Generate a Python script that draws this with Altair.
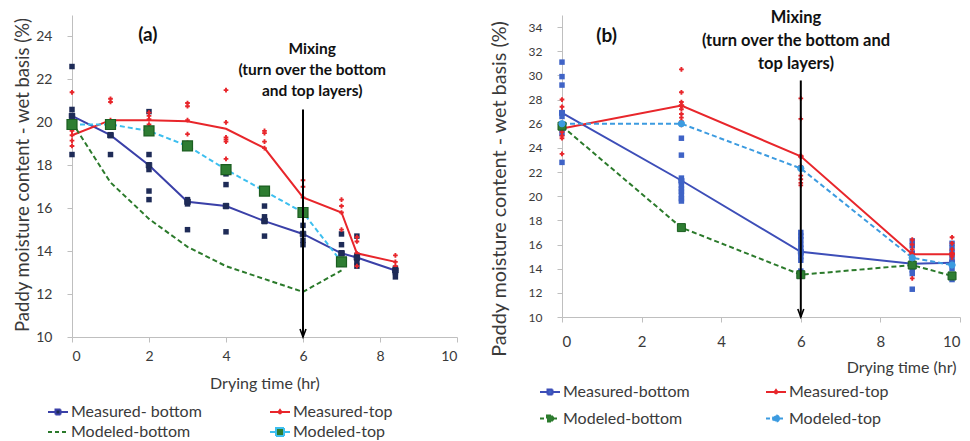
import altair as alt
import pandas as pd

FONT = "Lato"
TXT = "#3a3a3a"
GRAY = "#BFBFBF"

# ---------------- Panel (a) data ----------------
A_SERIES = ["Measured- bottom", "Measured-top", "Modeled-bottom", "Modeled-top"]
A_TIME = [0, 1, 2, 3, 4, 5, 6, 7, 7.4, 8.4]
A_MEAS_BOTTOM = [20.3, 19.4, 18.0, 16.3, 16.1, 15.4, 14.8, 13.9, 13.7, 13.1]
A_MEAS_TOP = [19.4, 20.1, 20.1, 20.05, 19.7, 18.8, 16.5, 15.8, 13.9, 13.5]
A_MOD_TIME = [0, 1, 2, 3, 4, 5, 6, 7]
A_MOD_BOTTOM = [20.0, 17.2, 15.5, 14.2, 13.3, 12.7, 12.1, 13.1]
A_MOD_TOP = [19.9, 19.9, 19.6, 18.9, 17.8, 16.8, 15.8, 13.5]
A_REPS_BOTTOM = [
    [22.6, 20.6, 20.3, 20.0, 18.5],
    [20.0, 19.4, 18.5],
    [20.5, 18.5, 17.8, 16.8, 16.4],
    [16.4, 16.2, 15.0],
    [17.6, 17.1, 16.1, 14.9],
    [16.1, 15.6, 15.4, 14.7],
    [15.7, 15.2, 14.5, 14.3],
    [14.8, 14.3, 13.9, 13.4],
    [14.7, 13.8, 13.5, 13.3],
    [13.2, 13.1, 13.0, 12.8],
]
A_REPS_TOP = [
    [21.4, 19.6, 19.4, 19.15, 18.9],
    [21.1, 20.95, 20.1],
    [20.45, 20.3, 20.15, 19.9],
    [20.9, 20.75, 20.1, 19.45, 19.05],
    [21.5, 20.0, 19.3, 19.2, 19.1, 18.3],
    [19.6, 19.5, 19.1, 18.8],
    [17.3, 17.0, 16.5, 16.0],
    [16.4, 16.1, 15.8, 15.0],
    [14.65, 14.45, 13.9, 13.3],
    [13.8, 13.5, 13.3],
]

# ---------------- Panel (b) data ----------------
B_SERIES = ["Measured-bottom", "Measured-top", "Modeled-bottom", "Modeled-top"]
B_TIME = [0, 3, 6, 8.8, 9.8]
B_MEAS_BOTTOM = [26.9, 21.3, 15.4, 14.4, 14.5]
B_MEAS_TOP = [25.6, 27.5, 23.3, 15.2, 15.2]
B_MOD_BOTTOM = [25.8, 17.4, 13.5, 14.3, 13.4]
B_MOD_TOP = [26.0, 26.0, 22.3, 14.9, 14.3]
B_REPS_BOTTOM = [
    [31.1, 29.9, 29.2, 26.9, 26.6, 26.0, 25.6, 25.2, 22.8],
    [24.8, 23.4, 21.5, 21.2, 20.9, 20.6, 20.4, 20.1, 19.8, 19.6],
    [17.0, 16.7, 16.4, 16.0, 15.7, 15.3, 15.0, 14.7, 13.8],
    [16.3, 15.9, 15.3, 14.7, 14.4, 13.9, 13.6, 12.3],
    [16.1, 15.7, 15.3, 14.9, 14.5, 14.0, 13.5, 13.1],
]
B_REPS_TOP = [
    [28.0, 27.4, 27.0, 25.3, 25.0, 24.8, 23.5],
    [30.5, 28.6, 27.8, 27.2, 26.8, 26.5, 26.2, 25.9],
    [28.1, 26.4, 22.5, 21.7, 21.4, 21.1, 20.9],
    [16.4, 16.0, 15.6, 15.1, 14.6, 14.2, 13.2],
    [16.6, 16.1, 15.6, 15.3, 15.0, 14.7, 14.5],
]

Y_TITLE = "Paddy moisture content - wet basis (%)"
X_TITLE = "Drying time (hr)"
MIX_A = ["Mixing", "(turn over the bottom", "and top layers)"]
MIX_B = ["Mixing", "(turn over the bottom and", "top layers)"]


def line_table(names, times_list, values_list):
    rows = []
    for name, times, vals in zip(names, times_list, values_list):
        for t, v in zip(times, vals):
            rows.append({"series": name, "time": t, "mc": v})
    return pd.DataFrame(rows)


def rep_table(name, times, reps):
    return pd.DataFrame(
        [{"series": name, "time": t, "mc": v} for t, vs in zip(times, reps) for v in vs]
    )


def sq(h):
    return f"M{-h},{-h}H{h}V{h}H{-h}Z"


ONE = pd.DataFrame({"k": [0]})


def build_panel(cfg):
    xs = alt.Scale(domain=[0, 10], nice=False, zero=False)
    ys = alt.Scale(domain=cfg["ydomain"], nice=False, zero=False)
    x_axis = alt.Axis(
        values=[0, 2, 4, 6, 8, 10], tickCount=30, format="d", grid=False,
        domainColor=GRAY, tickColor=GRAY,
        tickSize=5, labelPadding=cfg["xlabpad"], labelFont=FONT, labelFontSize=cfg["xlab_size"],
        labelColor=TXT, title=X_TITLE, titleFont=FONT, titleFontSize=16,
        titleFontWeight="normal", titleColor=TXT, titleY=cfg["xtitle_y"], titleBaseline="middle",
        titleX=cfg["xtitle_x"], titleAlign=cfg["xtitle_align"], labelOverlap=False,
    )
    y_axis = alt.Axis(
        values=cfg["yticks"], tickCount=30, format="d", grid=False,
        domainColor=GRAY, tickColor=GRAY,
        tickSize=5, labelPadding=15, labelFont=FONT, labelFontSize=cfg["ylab_size"],
        labelColor=TXT, title=Y_TITLE, titleFont=FONT, titleFontSize=cfg["ytitle_size"],
        titleFontWeight="normal", titleColor=TXT, titleX=cfg["ytitle_x"],
        titleY=cfg["ytitle_y"], titleBaseline="middle", titleAngle=270,
        labelOverlap=False, labelSeparation=0, labelBound=False,
    )
    X = alt.X("time:Q", scale=xs, axis=x_axis)
    Y = alt.Y("mc:Q", scale=ys, axis=y_axis)

    means = cfg["means"]
    names = cfg["names"]
    layers = []
    # replicate measurements
    layers.append(alt.Chart(cfg["reps_bottom"]).mark_square(
        size=cfg["rep_sq_size"], color=cfg["rep_bottom_color"], opacity=1).encode(x=X, y=Y))
    layers.append(alt.Chart(cfg["reps_top"]).mark_point(
        shape="cross", filled=True, size=22, color=cfg["red"], opacity=1).encode(x=X, y=Y))
    # lines
    for i, name in enumerate(names):
        st = cfg["line_styles"][i]
        kw = dict(color=st["color"], strokeWidth=2)
        if st.get("dash"):
            kw["strokeDash"] = st["dash"]
        layers.append(alt.Chart(means).transform_filter(
            alt.datum.series == name).mark_line(**kw).encode(x=X, y=Y))
    # markers on lines
    for i, name in enumerate(names):
        mk = cfg["markers"][i]
        if mk is None:
            continue
        layers.append(alt.Chart(means).transform_filter(
            alt.datum.series == name).mark_point(
            shape=mk["shape"], filled=True, size=mk["size"], fill=mk["fill"],
            stroke=mk["stroke"], strokeWidth=mk.get("sw", 1), opacity=1).encode(x=X, y=Y))
    # mixing arrow
    layers.append(alt.Chart(ONE).mark_rule(color="black", strokeWidth=2).encode(
        x=alt.datum(6), y=alt.datum(cfg["arrow_top"]), y2=alt.datum(cfg["ydomain"][0])))
    layers.append(alt.Chart(ONE).mark_point(
        shape="M-0.9,-2.4L0,0L0.9,-2.4", filled=False, color="black", strokeWidth=1.6,
        size=44, opacity=1).encode(x=alt.datum(6), y=alt.datum(cfg["ydomain"][0])))
    # annotation texts
    layers.append(alt.Chart(ONE).mark_text(
        text=cfg["mix_text"], font=FONT, fontWeight="bold", fontSize=cfg["mix_size"],
        lineHeight=cfg["mix_lh"], align="center", baseline="alphabetic", color="#111111"
    ).encode(x=alt.datum(cfg["mix_x"]), y=alt.datum(cfg["mix_y"])))
    layers.append(alt.Chart(ONE).mark_text(
        text=cfg["label"], font=FONT, fontWeight="bold", fontSize=19,
        align="center", baseline="middle", color="#111111"
    ).encode(x=alt.datum(cfg["label_x"]), y=alt.datum(cfg["label_y"])))
    # legend carrier (invisible marks, visible legend)
    leg = alt.Legend(
        orient="none", legendX=cfg["leg_x"], legendY=cfg["leg_y"], columns=2,
        direction="horizontal",
        title=None, symbolSize=400, symbolStrokeWidth=2, symbolOpacity=1,
        labelFont=FONT, labelFontSize=16, labelColor=TXT, labelOffset=2,
        columnPadding=cfg["leg_colpad"], rowPadding=cfg["leg_rowpad"], padding=0,
        labelLimit=300,
    )
    layers.append(alt.Chart(means).mark_point(opacity=0, filled=True).encode(
        x=X, y=Y,
        fill=alt.Fill("series:N", scale=alt.Scale(domain=names, range=cfg["leg_fill"]), legend=leg),
        stroke=alt.Stroke("series:N", scale=alt.Scale(domain=names, range=cfg["leg_stroke"]), legend=leg),
        shape=alt.Shape("series:N", scale=alt.Scale(domain=names, range=cfg["leg_shape"]), legend=leg),
        strokeDash=alt.StrokeDash("series:N", scale=alt.Scale(domain=names, range=cfg["leg_dash"]), legend=leg),
    ))
    return alt.layer(*layers).properties(width=cfg["w"], height=cfg["h"])


RED = "#E8262B"
A_NAVY_LINE = "#3A40A8"
A_NAVY_PT = "#1E2B57"
GREEN = "#2B7A2B"
CYAN = "#3DBFEF"
B_BLUE_LINE = "#3D4EB8"
B_BLUE_PT = "#3F63C6"
B_SKY = "#3C9BE0"

cfg_a = dict(
    names=A_SERIES,
    means=line_table(A_SERIES, [A_TIME, A_TIME, A_MOD_TIME, A_MOD_TIME],
                     [A_MEAS_BOTTOM, A_MEAS_TOP, A_MOD_BOTTOM, A_MOD_TOP]),
    reps_bottom=rep_table(A_SERIES[0], A_TIME, A_REPS_BOTTOM),
    reps_top=rep_table(A_SERIES[1], A_TIME, A_REPS_TOP),
    ydomain=[10, 25], yticks=list(range(10, 25, 2)), w=385, h=322,
    xlabpad=7, xlab_size=14, ylab_size=14, xtitle_x=192.5, xtitle_align="center", xtitle_y=46,
    ytitle_x=-50, ytitle_y=159.5, ytitle_size=18.5,
    rep_sq_size=30, rep_bottom_color=A_NAVY_PT, red=RED,
    line_styles=[dict(color=A_NAVY_LINE), dict(color=RED),
                 dict(color=GREEN, dash=[5, 3]), dict(color=CYAN, dash=[5, 3])],
    markers=[dict(shape="square", size=30, fill=A_NAVY_PT, stroke=A_NAVY_PT),
             None, None,
             dict(shape="square", size=100, fill="#2E7D32", stroke="#1B5E20", sw=1.2)],
    arrow_top=20.6, mix_text=MIX_A, mix_size=15.5, mix_lh=21.3, mix_x=6.24, mix_y=23.19,
    label="(a)", label_x=1.97, label_y=24.05,
    leg_x=-25, leg_y=386, leg_colpad=64, leg_rowpad=1,
    leg_fill=[A_NAVY_PT, RED, GREEN, "#2E7D32"],
    leg_stroke=[A_NAVY_LINE, RED, GREEN, CYAN],
    leg_shape=["M-1,0H-0.25M0.25,0H1" + sq(0.25), "M-1,0H1M0,-0.2L0.15,0L0,0.2L-0.15,0Z",
               "M-1,0H1", "M-1,0H-0.4M0.4,0H1" + sq(0.4)],
    leg_dash=[[1, 0], [1, 0], [4, 3], [1, 0]],
)

cfg_b = dict(
    names=B_SERIES,
    means=line_table(B_SERIES, [B_TIME] * 4,
                     [B_MEAS_BOTTOM, B_MEAS_TOP, B_MOD_BOTTOM, B_MOD_TOP]),
    reps_bottom=rep_table(B_SERIES[0], B_TIME, B_REPS_BOTTOM),
    reps_top=rep_table(B_SERIES[1], B_TIME, B_REPS_TOP),
    ydomain=[10, 35], yticks=list(range(10, 35, 2)), w=398, h=302,
    xlabpad=12, xlab_size=15, ylab_size=12, xtitle_x=394, xtitle_align="right", xtitle_y=50,
    ytitle_x=-63, ytitle_y=173.5, ytitle_size=19.8,
    rep_sq_size=30, rep_bottom_color=B_BLUE_PT, red=RED,
    line_styles=[dict(color=B_BLUE_LINE), dict(color=RED),
                 dict(color=GREEN, dash=[5, 3]), dict(color=B_SKY, dash=[5, 3])],
    markers=[dict(shape="square", size=25, fill=B_BLUE_PT, stroke=B_BLUE_PT),
             dict(shape="cross", size=22, fill=RED, stroke=RED),
             dict(shape="square", size=64, fill="#2E7D32", stroke="#1B5E20", sw=1),
             dict(shape="circle", size=40, fill=B_SKY, stroke=B_SKY)],
    arrow_top=29.58, mix_text=MIX_B, mix_size=16.5, mix_lh=23, mix_x=5.88, mix_y=34.32,
    label="(b)", label_x=1.12, label_y=33.26,
    leg_x=-23, leg_y=366, leg_colpad=72, leg_rowpad=7.5,
    leg_fill=[B_BLUE_PT, RED, "#2E7D32", B_SKY],
    leg_stroke=[B_BLUE_LINE, RED, GREEN, B_SKY],
    leg_shape=["M-1,0H-0.25M0.25,0H1" + sq(0.25), "M-1,0H1M0,-0.2L0.15,0L0,0.2L-0.15,0Z",
               "M-1,0H-0.3M0.3,0H1" + sq(0.3),
               "M-1,0H-0.3M0.3,0H1M0.3,0A0.3,0.3 0 1,1 -0.3,0A0.3,0.3 0 1,1 0.3,0Z"],
    leg_dash=[[1, 0], [1, 0], [4, 3], [4, 3]],
)

chart = alt.hconcat(
    build_panel(cfg_a), build_panel(cfg_b), spacing=105, bounds="flush",
    padding={"left": 4, "top": 2, "right": 0, "bottom": 0},
).resolve_scale(
    fill="independent", stroke="independent", shape="independent", strokeDash="independent",
).configure_view(stroke=None).configure_axis(labelOverlap=False)

chart.save("out.html", embed_options={"renderer": "svg", "actions": False})
